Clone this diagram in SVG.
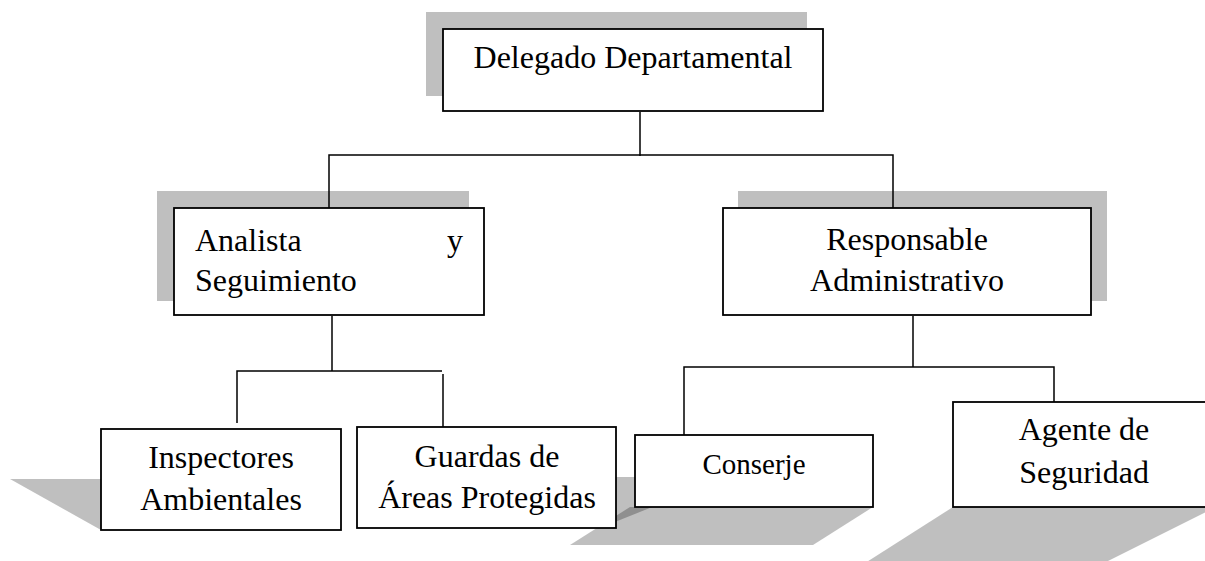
<svg xmlns="http://www.w3.org/2000/svg" width="1205" height="561" viewBox="0 0 1205 561">
  <style>
    .shadow { fill: #000000; fill-opacity: 0.25; stroke: none; }
    .box { fill: #ffffff; stroke: #000000; stroke-width: 1.8; }
    .lbl { font-family: "Liberation Serif", "Times New Roman", serif; font-size: 32px; fill: #000000; }
    .mid { text-anchor: middle; }
    .conn { stroke: #000000; stroke-width: 1.5; fill: none; }
  </style>
  <rect width="1205" height="561" fill="#ffffff"/>

  <!-- shadows -->
  <g id="shadows">
    <rect class="shadow" x="426" y="12" width="381" height="84"/>
    <rect class="shadow" x="157" y="191" width="312" height="110"/>
    <rect class="shadow" x="738" y="191" width="369" height="110"/>
    <polygon class="shadow" points="10,479 300,479 341,530 101,530"/>
    <polygon class="shadow" points="480,477 727,477 600,528 357,528"/>
    <polygon class="shadow" points="630,507 873,507 813,545 570,545"/>
    <polygon class="shadow" points="953,507 1216,507 1100,565 862,565"/>
  </g>

  <!-- connectors -->
  <g id="connectors">
    <line class="conn" x1="640" y1="112" x2="640" y2="156"/>
    <polyline class="conn" points="329,208 329,155 893,155 893,208"/>
    <line class="conn" x1="332" y1="316" x2="332" y2="371"/>
    <polyline class="conn" points="237,423 237,371 442,371"/>
    <line class="conn" x1="443" y1="374" x2="443" y2="427"/>
    <line class="conn" x1="913" y1="316" x2="913" y2="367"/>
    <polyline class="conn" points="684,435 684,367 1054,367 1054,402"/>
  </g>

  <g id="n-delegado">
    <rect class="box" x="443" y="29" width="380" height="82"/>
    <text class="lbl mid" x="633" y="68">Delegado Departamental</text>
  </g>

  <g id="n-analista">
    <rect class="box" x="174" y="208" width="310" height="107"/>
    <text class="lbl" y="251"><tspan x="195">Analista</tspan><tspan x="463" text-anchor="end">y</tspan></text>
    <text class="lbl" x="195" y="291">Seguimiento</text>
  </g>

  <g id="n-responsable">
    <rect class="box" x="723" y="208" width="368" height="107"/>
    <text class="lbl mid" x="907" y="250">Responsable</text>
    <text class="lbl mid" x="907" y="291">Administrativo</text>
  </g>

  <g id="n-inspectores">
    <rect class="box" x="101" y="429" width="240" height="101"/>
    <text class="lbl mid" x="221" y="468">Inspectores</text>
    <text class="lbl mid" x="221" y="510">Ambientales</text>
  </g>

  <g id="n-guardas">
    <rect class="box" x="357" y="427" width="259" height="101"/>
    <text class="lbl mid" x="487" y="467">Guardas de</text>
    <text class="lbl mid" x="487" y="508">Áreas Protegidas</text>
  </g>

  <g id="n-conserje">
    <rect class="box" x="635" y="435" width="238" height="72"/>
    <text class="lbl mid" x="754" y="474" style="font-size:29px">Conserje</text>
  </g>

  <g id="n-agente">
    <rect class="box" x="953" y="402" width="262" height="105"/>
    <text class="lbl mid" x="1084" y="440">Agente de</text>
    <text class="lbl mid" x="1084" y="483">Seguridad</text>
  </g>
</svg>
